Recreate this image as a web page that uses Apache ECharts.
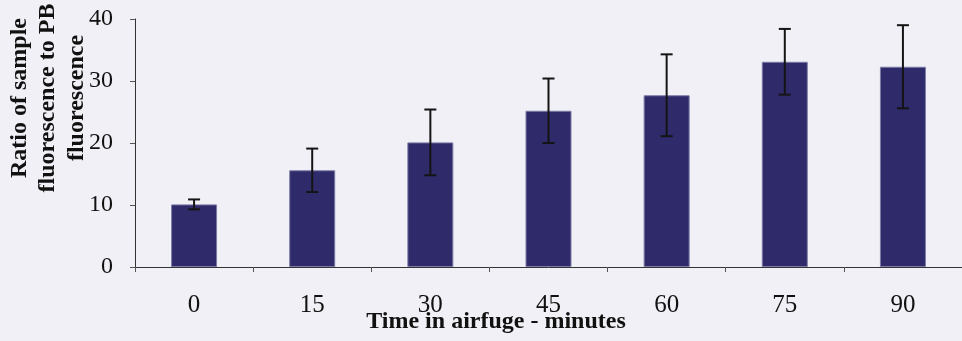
<!DOCTYPE html>
<html>
<head>
<meta charset="utf-8">
<script src="https://cdn.jsdelivr.net/npm/echarts@6/dist/echarts.min.js"></script>
<style>
  html, body { margin: 0; padding: 0; background: #f0f0f6; }
  #chart { width: 962px; height: 341px; }
</style>
</head>
<body>
<div id="chart"></div>
<script>
// Time spent in the airfuge (minutes)
const categories = ['0', '15', '30', '45', '60', '75', '90'];
// Mean ratio of sample fluorescence to PB fluorescence
const ratioValues = [10.1, 15.6, 20.1, 25.2, 27.7, 33.1, 32.3];
// Error bar half-widths (± around the mean)
const ratioErrors = [0.8, 3.5, 5.3, 5.2, 6.6, 5.3, 6.7];
// Value axis ticks
const yTicks = { min: 0, max: 40, interval: 10 };

const serif = '"Liberation Serif", "DejaVu Serif", serif';

const errorData = categories.map((c, i) => [i, ratioValues[i] - ratioErrors[i], ratioValues[i] + ratioErrors[i]]);

const chart = echarts.init(document.getElementById('chart'), null, { renderer: 'canvas' });

chart.setOption({
  backgroundColor: '#f0f0f6',
  animation: false,
  grid: { left: 135, right: 0, top: 19, bottom: 74 },
  xAxis: {
    type: 'category',
    data: categories,
    axisLine: { lineStyle: { color: '#333', width: 1 } },
    axisTick: { show: true, length: 5, lineStyle: { color: '#555' } },
    axisLabel: { color: '#111', fontFamily: serif, fontSize: 25, margin: 26 }
  },
  yAxis: {
    type: 'value',
    min: yTicks.min,
    max: yTicks.max,
    interval: yTicks.interval,
    splitLine: { show: false },
    axisLine: { show: true, lineStyle: { color: '#333', width: 1 } },
    axisTick: { show: true, length: 5, lineStyle: { color: '#555' } },
    axisLabel: { color: '#111', fontFamily: serif, fontSize: 24, margin: 22 }
  },
  graphic: [
    {
      type: 'text',
      x: 48, y: 98,
      rotation: Math.PI / 2,
      style: {
        text: 'Ratio of sample\nfluorescence to PB\nfluorescence',
        font: 'bold 24px ' + serif,
        fill: '#111',
        align: 'center',
        verticalAlign: 'middle',
        lineHeight: 28.5
      }
    },
    {
      type: 'text',
      x: 496, y: 322,
      style: {
        text: 'Time in airfuge - minutes',
        font: 'bold 24px ' + serif,
        fill: '#111',
        align: 'center',
        verticalAlign: 'middle'
      }
    }
  ],
  series: [
    {
      type: 'bar',
      data: ratioValues,
      barWidth: 46,
      itemStyle: { color: '#2f2a6a', borderColor: '#7c7ca6', borderWidth: 1 }
    },
    {
      type: 'custom',
      data: errorData,
      z: 10,
      renderItem: function (params, api) {
        const x = api.value(0);
        const low = api.coord([x, api.value(1)]);
        const high = api.coord([x, api.value(2)]);
        const half = 6;
        const style = { stroke: '#141414', lineWidth: 2 };
        return {
          type: 'group',
          children: [
            { type: 'line', shape: { x1: high[0], y1: high[1], x2: low[0], y2: low[1] }, style: style },
            { type: 'line', shape: { x1: high[0] - half, y1: high[1], x2: high[0] + half, y2: high[1] }, style: style },
            { type: 'line', shape: { x1: low[0] - half, y1: low[1], x2: low[0] + half, y2: low[1] }, style: style }
          ]
        };
      }
    }
  ]
});
</script>
</body>
</html>
